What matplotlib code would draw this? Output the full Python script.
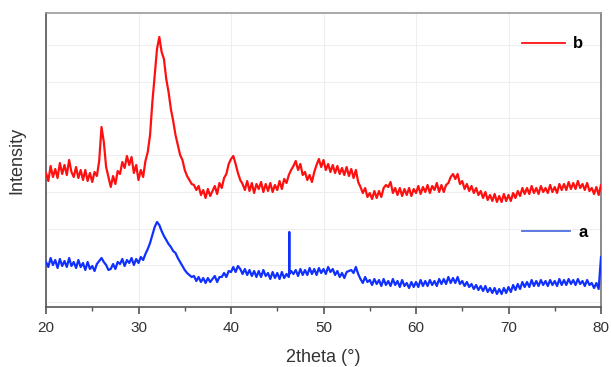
import numpy as np
import matplotlib
matplotlib.use("Agg")
import matplotlib.pyplot as plt
from matplotlib.lines import Line2D

plt.rcParams["font.family"] = ["Liberation Sans", "DejaVu Sans"]

# 2theta grid (0.25 deg step)
two_theta = np.arange(20.0, 80.001, 0.25)

# sample b (red), intensity in arbitrary units
b_vals = [
    134, 126, 141, 130,  138, 129, 144, 133,  142, 132, 147, 135,
    130, 140, 129, 137,  127, 137, 126, 134,  125, 135, 131, 146,
    180, 165, 140, 130,  120, 131, 123, 136,  133, 145, 139, 151,
    142, 150, 134, 142,  127, 137, 130, 146,  155, 172, 205, 232,
    258, 270, 255, 248,  228, 215, 198, 186,  172, 162, 152, 147,
    137, 131, 127, 123,  122, 117, 121, 112,  117, 109, 118, 111,
    116, 121, 113, 124,  119, 129, 133, 143,  148, 151, 143, 134,
    127, 123, 117, 126,  116, 124, 114, 123,  118, 125, 115, 123,
    116, 124, 115, 122,  117, 126, 118, 128,  124, 132, 137, 141,
    146, 137, 143, 132,  135, 127, 132, 125,  135, 142, 148, 140,
    147, 137, 143, 135,  142, 134, 141, 133,  139, 132, 140, 131,
    138, 129, 137, 125,  120, 114, 119, 110,  114, 108, 116, 109,
    116, 110, 119, 122,  120, 125, 114, 119,  112, 119, 111, 118,
    112, 119, 111, 118,  114, 121, 113, 120,  115, 122, 114, 121,
    117, 124, 115, 122,  115, 122, 124, 130,  133, 128, 133, 123,
    126, 118, 123, 116,  121, 114, 119, 112,  116, 109, 115, 107,
    112, 106, 113, 105,  111, 105, 113, 106,  112, 106, 114, 109,
    116, 111, 119, 113,  119, 113, 121, 114,  119, 113, 121, 115,
    119, 114, 122, 115,  120, 114, 123, 117,  123, 117, 125, 118,
    124, 118, 126, 119,  123, 117, 124, 116,  119, 113, 120, 112,
    122,
]

# sample a (blue)
a_vals = [
    45, 40, 49, 42,  47, 39, 48, 41,  46, 40, 49, 41,
    45, 39, 47, 40,  44, 37, 45, 38,  41, 36, 43, 46,
    49, 45, 42, 37,  38, 43, 38, 45,  43, 48, 41, 47,
    44, 49, 42, 48,  44, 50, 47, 53,  58, 64, 72, 80,
    85, 82, 76, 71,  67, 63, 60, 56,  54, 49, 45, 41,
    37, 34, 32, 30,  31, 26, 30, 25,  29, 24, 29, 25,
    28, 31, 25, 30,  30, 34, 30, 36,  35, 40, 35, 41,
    38, 33, 38, 32,  37, 31, 36, 30,  36, 30, 37, 31,
    34, 28, 35, 29,  34, 28, 35, 29,  33, 30, 36, 33,
    37, 31, 38, 32,  37, 32, 39, 33,  38, 32, 39, 34,
    38, 33, 40, 35,  38, 32, 36, 30,  34, 29, 35, 36,
    37, 34, 40, 33,  28, 24, 30, 25,  27, 22, 28, 23,
    27, 21, 28, 22,  26, 21, 28, 22,  26, 20, 27, 21,
    24, 19, 25, 20,  25, 20, 27, 21,  26, 21, 27, 22,
    26, 21, 28, 23,  28, 23, 30, 24,  29, 24, 30, 23,
    26, 21, 25, 20,  23, 18, 22, 17,  21, 16, 21, 15,
    19, 14, 19, 13,  18, 13, 19, 14,  20, 15, 22, 17,
    23, 18, 25, 20,  25, 20, 27, 21,  26, 21, 27, 22,
    26, 21, 27, 22,  26, 21, 28, 22,  27, 22, 28, 23,
    27, 22, 28, 23,  26, 21, 27, 22,  24, 19, 24, 18,
    50,
]
# sharp reflection in sample a
a_spike_x = [46.28, 46.30, 46.32]
a_spike_y = [34, 75, 33]

x_major = [20, 30, 40, 50, 60, 70, 80]
x_minor = [25, 35, 45, 55, 65, 75]
labels = ["b", "a"]

red = "#ff1010"
blue = "#1030ff"

a_x = np.concatenate([two_theta, a_spike_x])
a_y = np.concatenate([np.array(a_vals, float), a_spike_y])
order = np.argsort(a_x, kind="stable")
a_x, a_y = a_x[order], a_y[order]

fig = plt.figure(figsize=(6.11, 3.67), dpi=100)
ax = fig.add_axes([46/611, 60/367, (601-46)/611, (307-13)/367])

ax.set_xlim(20, 80)
ax.set_ylim(0, 294)

# faint grid
ax.set_yticks(np.arange(5, 294, 36.75))
ax.set_xticks(x_major)
ax.set_xticks(x_minor, minor=True)
ax.grid(True, which="major", color="#eeeeee", linewidth=0.8, zorder=0)

lb, = ax.plot(two_theta, b_vals, color=red, linewidth=1.6, zorder=3)
la, = ax.plot(a_x, a_y, color=blue, linewidth=1.6, zorder=3)

for s in ax.spines.values():
    s.set_color("#555555")
    s.set_linewidth(1.2)
ax.spines["top"].set_color("#999999")
ax.spines["right"].set_color("#777777")

ax.tick_params(axis="y", left=False, labelleft=False)
ax.tick_params(axis="x", which="major", direction="out", length=5, width=1.2,
               color="#555555", labelsize=11, labelcolor="#333333", pad=5)
ax.tick_params(axis="x", which="minor", direction="out", length=3, width=1.0,
               color="#555555")

ax.set_xlabel("2theta (°)", fontsize=13, color="#333333", labelpad=10)
ax.set_ylabel("Intensity", fontsize=13, color="#333333", labelpad=15)

h_b = Line2D([], [], color=red, linewidth=1.3)
h_a = Line2D([], [], color="#5070e0", linewidth=1.3)
leg1 = ax.legend([h_b], [labels[0]], loc="center left", bbox_to_anchor=(0.83, 0.895),
                 frameon=False, handlelength=2.6, handletextpad=0.5,
                 prop={"weight": "bold", "size": 12})
ax.add_artist(leg1)
leg2 = ax.legend([h_a], [labels[1]], loc="center left", bbox_to_anchor=(0.83, 0.255),
                 frameon=False, handlelength=2.9, handletextpad=0.5,
                 prop={"weight": "bold", "size": 12})

fig.savefig("out.png", dpi=100)
